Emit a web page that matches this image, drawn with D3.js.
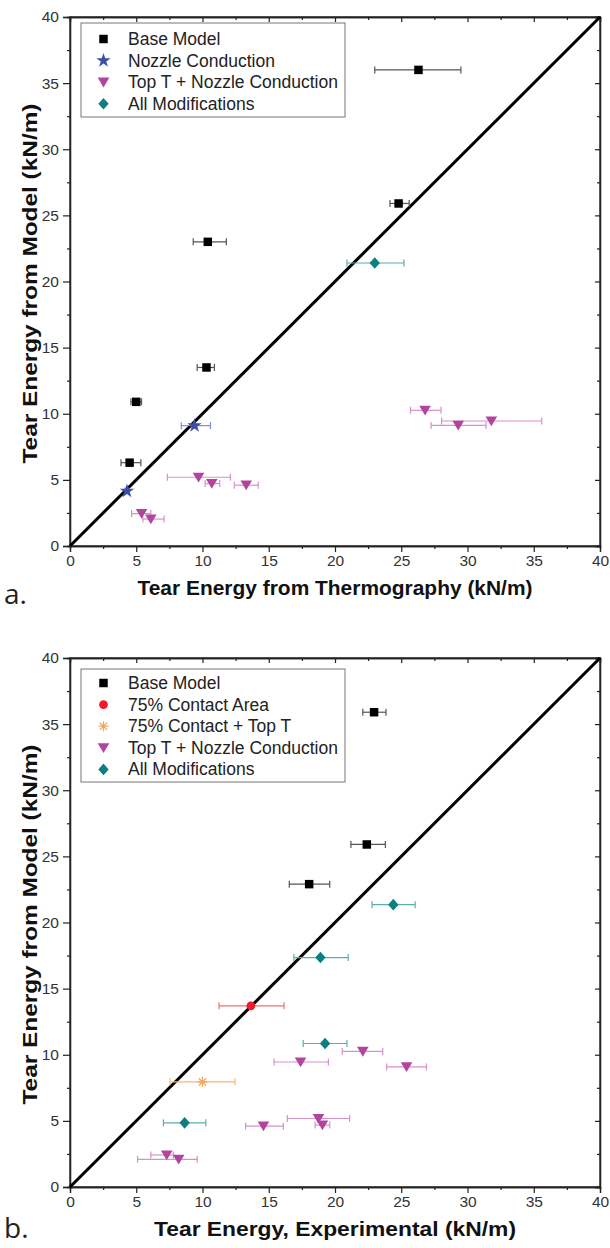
<!DOCTYPE html>
<html><head><meta charset="utf-8">
<script src="https://cdn.jsdelivr.net/npm/d3@7"></script>
<style>
body{margin:0;background:#fff;}
svg{display:block;}
</style></head>
<body>
<svg id="c" width="610" height="1248"></svg>
<script>
// ---------- Data: panel a ----------
const aBaseX  = [26.3, 24.8, 10.4, 10.3, 5.0, 4.5];
const aBaseY  = [36.0, 25.9, 23.0, 13.5, 10.9, 6.3];
const aBaseLo = [23.0, 24.15, 9.3, 9.6, 4.6, 3.85];
const aBaseHi = [29.5, 25.6, 11.8, 10.9, 5.4, 5.35];

const aNozX  = [9.4, 4.3];
const aNozY  = [9.1, 4.15];
const aNozLo = [8.4, 4.15];
const aNozHi = [10.6, 4.45];

const aTopX  = [9.7, 10.7, 13.3, 5.4, 6.1, 26.8, 31.8, 29.3];
const aTopY  = [5.2, 4.72, 4.6, 2.45, 2.04, 10.26, 9.45, 9.12];
const aTopLo = [7.35, 10.2, 12.4, 4.65, 5.5, 25.7, 28.05, 27.25];
const aTopHi = [12.1, 11.3, 14.2, 6.1, 7.1, 28.0, 35.6, 31.4];

const aAllX  = [23.0];
const aAllY  = [21.4];
const aAllLo = [20.9];
const aAllHi = [25.2];

// ---------- Data: panel b ----------
const bBaseX  = [22.95, 22.4, 18.05];
const bBaseY  = [35.9, 25.9, 22.9];
const bBaseLo = [22.1, 21.2, 16.55];
const bBaseHi = [23.85, 23.8, 19.6];

const bC75X  = [13.65];
const bC75Y  = [13.7];
const bC75Lo = [11.25];
const bC75Hi = [16.15];

const bC75TX  = [10.0];
const bC75TY  = [7.95];
const bC75TLo = [7.55];
const bC75THi = [12.45];

const bTopX  = [22.1, 17.4, 25.4, 18.75, 19.05, 14.6, 7.3, 8.2];
const bTopY  = [10.25, 9.45, 9.08, 5.18, 4.68, 4.6, 2.42, 2.09];
const bTopLo = [20.55, 15.4, 23.9, 16.4, 18.5, 13.25, 6.1, 5.1];
const bTopHi = [23.6, 19.5, 26.9, 21.1, 19.6, 16.1, 7.8, 9.6];

const bAllX  = [24.4, 18.9, 19.25, 8.65];
const bAllY  = [21.35, 17.35, 10.85, 4.85];
const bAllLo = [22.8, 16.9, 17.6, 7.05];
const bAllHi = [26.05, 21.0, 20.9, 10.25];

const tickValues = [0, 5, 10, 15, 20, 25, 30, 35, 40];
const minorValues = [2.5, 7.5, 12.5, 17.5, 22.5, 27.5, 32.5, 37.5];
const domain = [0, 40];

const legendA = ["Base Model", "Nozzle Conduction", "Top T + Nozzle Conduction", "All Modifications"];
const legendB = ["Base Model", "75% Contact Area", "75% Contact + Top T", "Top T + Nozzle Conduction", "All Modifications"];

// ---------- Styles ----------
const S = {
  base: {sym: "square", fill: "#000", bar: "#555"},
  noz:  {sym: "star", fill: "#3b4fa8", bar: "#7f8fd0"},
  top:  {sym: "tri", fill: "#b2449e", bar: "#d890c8"},
  all:  {sym: "diamond", fill: "#0c8080", bar: "#5aaeae"},
  c75:  {sym: "circle", fill: "#ee1c24", bar: "#f07070"},
  c75t: {sym: "asterisk", fill: "#f5a35a", bar: "#f7b777"}
};

const svg = d3.select("#c");
const FONT = "Liberation Sans, Arial, sans-serif";

function symPath(kind) {
  switch (kind) {
    case "square": return d3.symbol(d3.symbolSquare, 72)();
    case "star": return d3.symbol(d3.symbolStar, 64)();
    case "diamond": return "M0,-5.8L5.2,0L0,5.8L-5.2,0Z";
    case "circle": return d3.symbol(d3.symbolCircle, 60)();
    case "tri": return "M-5.8,-4.6L5.8,-4.6L0,5.2Z";
    case "asterisk": return "M-5,0L5,0M0,-5L0,5M-3.6,-3.6L3.6,3.6M-3.6,3.6L3.6,-3.6";
  }
}

function drawMarker(g, kind, color, x, y) {
  const p = g.append("path").attr("d", symPath(kind)).attr("transform", `translate(${x},${y})`);
  if (kind === "asterisk") p.attr("fill", "none").attr("stroke", color).attr("stroke-width", 1.2);
  else p.attr("fill", color);
}

function panel(cfg) {
  const {top, xTitle, xLen, label, labelY, series, legend, legTop, legRow0, legH} = cfg;
  const L = 70, R = 600, T = top, B = top + 529;
  const x = d3.scaleLinear().domain(domain).range([L, R]);
  const y = d3.scaleLinear().domain(domain).range([B, T]);
  const g = svg.append("g");

  g.append("rect").attr("x", L).attr("y", T).attr("width", R - L).attr("height", B - T)
    .attr("fill", "none").attr("stroke", "#222").attr("stroke-width", 1.3);

  const fmt = d3.format("d");
  g.append("g").attr("transform", `translate(0,${B})`)
    .call(d3.axisBottom(x).tickValues(tickValues).tickFormat(fmt).tickSize(6).tickPadding(3));
  g.append("g").attr("transform", `translate(${L},0)`)
    .call(d3.axisLeft(y).tickValues(tickValues).tickFormat(fmt).tickSize(7).tickPadding(4));
  g.append("g").attr("transform", `translate(0,${B})`)
    .call(d3.axisBottom(x).tickValues(minorValues).tickFormat("").tickSize(3));
  g.append("g").attr("transform", `translate(${L},0)`)
    .call(d3.axisLeft(y).tickValues(minorValues).tickFormat("").tickSize(3));
  g.append("g").attr("transform", `translate(0,${T})`)
    .call(d3.axisBottom(x).tickValues(tickValues).tickFormat("").tickSize(5));
  g.append("g").attr("transform", `translate(0,${T})`)
    .call(d3.axisBottom(x).tickValues(minorValues).tickFormat("").tickSize(3));
  g.append("g").attr("transform", `translate(${R},0)`)
    .call(d3.axisLeft(y).tickValues(tickValues).tickFormat("").tickSize(5));
  g.append("g").attr("transform", `translate(${R},0)`)
    .call(d3.axisLeft(y).tickValues(minorValues).tickFormat("").tickSize(3));
  g.selectAll(".domain").attr("stroke", "#222").attr("stroke-width", 1.3);
  g.selectAll(".tick line").attr("stroke", "#222").attr("stroke-width", 1.2);
  g.selectAll(".tick text").attr("font-family", FONT).attr("font-size", 15.5).attr("fill", "#333");

  g.append("line").attr("x1", x(0)).attr("y1", y(0)).attr("x2", x(40)).attr("y2", y(40))
    .attr("stroke", "#000").attr("stroke-width", 3);

  series.forEach(s => {
    const st = S[s.style];
    const eg = g.append("g");
    s.x.forEach((xv, i) => {
      const yy = y(s.y[i]), x0 = x(s.lo[i]), x1 = x(s.hi[i]);
      eg.append("line").attr("x1", x0).attr("x2", x1).attr("y1", yy).attr("y2", yy)
        .attr("stroke", st.bar).attr("stroke-width", 1.2);
      [x0, x1].forEach(xx => eg.append("line").attr("x1", xx).attr("x2", xx)
        .attr("y1", yy - 3.5).attr("y2", yy + 3.5).attr("stroke", st.bar).attr("stroke-width", 1.2));
    });
    s.x.forEach((xv, i) => drawMarker(g, st.sym, st.fill, x(xv), y(s.y[i])));
  });

  const lg = g.append("g");
  const rowH = 21.6;
  lg.append("rect").attr("x", 81).attr("y", T + legTop).attr("width", 264).attr("height", legH)
    .attr("fill", "#fff").attr("stroke", "#777").attr("stroke-width", 1);
  legend.forEach((name, i) => {
    const yy = T + legRow0 + i * rowH;
    const st = S[series[i].style];
    drawMarker(lg, st.sym, st.fill, 103.5, yy);
    lg.append("text").attr("x", 128).attr("y", yy + 6).text(name)
      .attr("font-family", FONT).attr("font-size", 17.5).attr("fill", "#222");
  });

  g.append("text").attr("x", (L + R) / 2).attr("y", B + 49).attr("text-anchor", "middle")
    .attr("font-family", FONT).attr("font-weight", "bold")
    .attr("font-size", 20.5).attr("fill", "#111")
    .attr("textLength", xLen).attr("lengthAdjust", "spacingAndGlyphs").text(xTitle);
  g.append("text").attr("transform", `translate(37,${(T + B) / 2 + 2}) rotate(-90)`)
    .attr("text-anchor", "middle")
    .attr("font-family", FONT).attr("font-weight", "bold")
    .attr("font-size", 20.5).attr("fill", "#111")
    .attr("textLength", 360).attr("lengthAdjust", "spacingAndGlyphs")
    .text("Tear Energy from Model (kN/m)");
  g.append("text").attr("x", 4).attr("y", labelY).text(label)
    .attr("font-family", "Open Sans, DejaVu Sans, sans-serif").attr("font-size", 28).attr("fill", "#222");
}

panel({top: 17, xTitle: "Tear Energy from Thermography (kN/m)", xLen: 395, label: "a.", labelY: 604,
  legTop: 6, legRow0: 22, legH: 94,
  series: [
    {style: "base", x: aBaseX, y: aBaseY, lo: aBaseLo, hi: aBaseHi},
    {style: "noz", x: aNozX, y: aNozY, lo: aNozLo, hi: aNozHi},
    {style: "top", x: aTopX, y: aTopY, lo: aTopLo, hi: aTopHi},
    {style: "all", x: aAllX, y: aAllY, lo: aAllLo, hi: aAllHi}
  ], legend: legendA});

panel({top: 658, xTitle: "Tear Energy, Experimental (kN/m)", xLen: 362, label: "b.", labelY: 1238,
  legTop: 11, legRow0: 25, legH: 113,
  series: [
    {style: "base", x: bBaseX, y: bBaseY, lo: bBaseLo, hi: bBaseHi},
    {style: "c75", x: bC75X, y: bC75Y, lo: bC75Lo, hi: bC75Hi},
    {style: "c75t", x: bC75TX, y: bC75TY, lo: bC75TLo, hi: bC75THi},
    {style: "top", x: bTopX, y: bTopY, lo: bTopLo, hi: bTopHi},
    {style: "all", x: bAllX, y: bAllY, lo: bAllLo, hi: bAllHi}
  ], legend: legendB});
</script>
</body></html>
